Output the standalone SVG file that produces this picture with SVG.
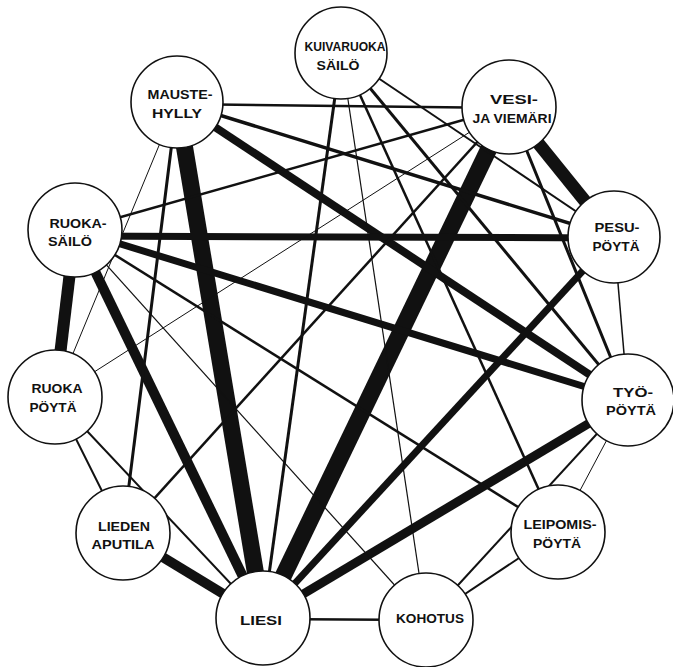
<svg xmlns="http://www.w3.org/2000/svg" width="673" height="667" viewBox="0 0 673 667">
<style>
.e{stroke:#111;fill:none;stroke-linecap:butt}
.n circle{fill:#fff;stroke:#111;stroke-width:1.6}
.n text{font-family:"Liberation Sans","DejaVu Sans",sans-serif;font-size:13px;font-weight:bold;fill:#111;text-anchor:middle}
</style>
<rect width="673" height="667" fill="#fff"/>
<g id="connectors">
<line class="e" x1="177" y1="102" x2="263" y2="618" stroke-width="17"/>
<line class="e" x1="509" y1="107" x2="263" y2="618" stroke-width="17"/>
<line class="e" x1="509" y1="107" x2="614" y2="237" stroke-width="13"/>
<line class="e" x1="75" y1="230" x2="55" y2="397" stroke-width="12"/>
<line class="e" x1="75" y1="230" x2="263" y2="618" stroke-width="10"/>
<line class="e" x1="177" y1="102" x2="628" y2="400" stroke-width="8"/>
<line class="e" x1="628" y1="400" x2="263" y2="618" stroke-width="9"/>
<line class="e" x1="123" y1="533" x2="263" y2="618" stroke-width="10"/>
<line class="e" x1="75" y1="236" x2="614" y2="238" stroke-width="7"/>
<line class="e" x1="614" y1="237" x2="263" y2="618" stroke-width="7"/>
<line class="e" x1="75" y1="230" x2="628" y2="400" stroke-width="7"/>
<line class="e" x1="177" y1="102" x2="123" y2="533" stroke-width="3"/>
<line class="e" x1="341" y1="53" x2="263" y2="618" stroke-width="3"/>
<line class="e" x1="177" y1="102" x2="614" y2="237" stroke-width="3.5"/>
<line class="e" x1="75" y1="230" x2="509" y2="107" stroke-width="2.5"/>
<line class="e" x1="509" y1="107" x2="628" y2="400" stroke-width="3"/>
<line class="e" x1="341" y1="53" x2="628" y2="400" stroke-width="3"/>
<line class="e" x1="341" y1="53" x2="558" y2="532" stroke-width="2.5"/>
<line class="e" x1="509" y1="107" x2="123" y2="533" stroke-width="2.5"/>
<line class="e" x1="75" y1="230" x2="558" y2="532" stroke-width="2.5"/>
<line class="e" x1="177" y1="104" x2="509" y2="108" stroke-width="2.5"/>
<line class="e" x1="55" y1="397" x2="263" y2="618" stroke-width="2"/>
<line class="e" x1="55" y1="397" x2="123" y2="533" stroke-width="2"/>
<line class="e" x1="628" y1="400" x2="426" y2="620" stroke-width="2"/>
<line class="e" x1="558" y1="532" x2="426" y2="620" stroke-width="2"/>
<line class="e" x1="263" y1="619" x2="426" y2="620" stroke-width="2.5"/>
<line class="e" x1="341" y1="53" x2="614" y2="237" stroke-width="2"/>
<line class="e" x1="177" y1="102" x2="55" y2="397" stroke-width="1"/>
<line class="e" x1="509" y1="107" x2="55" y2="397" stroke-width="1"/>
<line class="e" x1="75" y1="230" x2="426" y2="620" stroke-width="1.2"/>
<line class="e" x1="341" y1="53" x2="426" y2="620" stroke-width="1.2"/>
<line class="e" x1="614" y1="237" x2="628" y2="400" stroke-width="1.5"/>
<line class="e" x1="628" y1="400" x2="558" y2="532" stroke-width="1"/>
</g>
<g id="kuivaruoka" class="n"><circle cx="341" cy="53" r="46"/><text x="345" y="51" textLength="81" lengthAdjust="spacingAndGlyphs">KUIVARUOKA</text><text x="338" y="70" textLength="43" lengthAdjust="spacingAndGlyphs">SÄILÖ</text></g>
<g id="mauste" class="n"><circle cx="177" cy="102" r="46"/><text x="180" y="99" textLength="65" lengthAdjust="spacingAndGlyphs">MAUSTE-</text><text x="177" y="118" textLength="50" lengthAdjust="spacingAndGlyphs">HYLLY</text></g>
<g id="vesi" class="n"><circle cx="509" cy="107" r="47"/><text x="514" y="104" textLength="48" lengthAdjust="spacingAndGlyphs">VESI-</text><text x="512" y="123" textLength="79" lengthAdjust="spacingAndGlyphs">JA VIEMÄRI</text></g>
<g id="ruokasailo" class="n"><circle cx="75" cy="230" r="47"/><text x="78" y="228" textLength="57" lengthAdjust="spacingAndGlyphs">RUOKA-</text><text x="70" y="246" textLength="44" lengthAdjust="spacingAndGlyphs">SÄILÖ</text></g>
<g id="pesu" class="n"><circle cx="614" cy="237" r="46"/><text x="617" y="232" textLength="45" lengthAdjust="spacingAndGlyphs">PESU-</text><text x="616" y="251" textLength="47" lengthAdjust="spacingAndGlyphs">PÖYTÄ</text></g>
<g id="ruokapoyta" class="n"><circle cx="55" cy="397" r="47"/><text x="57" y="393" textLength="51" lengthAdjust="spacingAndGlyphs">RUOKA</text><text x="53" y="412" textLength="47" lengthAdjust="spacingAndGlyphs">PÖYTÄ</text></g>
<g id="tyo" class="n"><circle cx="628" cy="400" r="46"/><text x="633" y="397" textLength="40" lengthAdjust="spacingAndGlyphs">TYÖ-</text><text x="631" y="415" textLength="50" lengthAdjust="spacingAndGlyphs">PÖYTÄ</text></g>
<g id="liedenaputila" class="n"><circle cx="123" cy="533" r="47"/><text x="124" y="531" textLength="52" lengthAdjust="spacingAndGlyphs">LIEDEN</text><text x="123" y="549" textLength="63" lengthAdjust="spacingAndGlyphs">APUTILA</text></g>
<g id="leipomis" class="n"><circle cx="558" cy="532" r="47"/><text x="560" y="529" textLength="73" lengthAdjust="spacingAndGlyphs">LEIPOMIS-</text><text x="557" y="548" textLength="48" lengthAdjust="spacingAndGlyphs">PÖYTÄ</text></g>
<g id="liesi" class="n"><circle cx="263" cy="618" r="47"/><text x="261" y="625" textLength="42" lengthAdjust="spacingAndGlyphs">LIESI</text></g>
<g id="kohotus" class="n"><circle cx="426" cy="620" r="47"/><text x="430" y="623" textLength="68" lengthAdjust="spacingAndGlyphs">KOHOTUS</text></g>
</svg>
